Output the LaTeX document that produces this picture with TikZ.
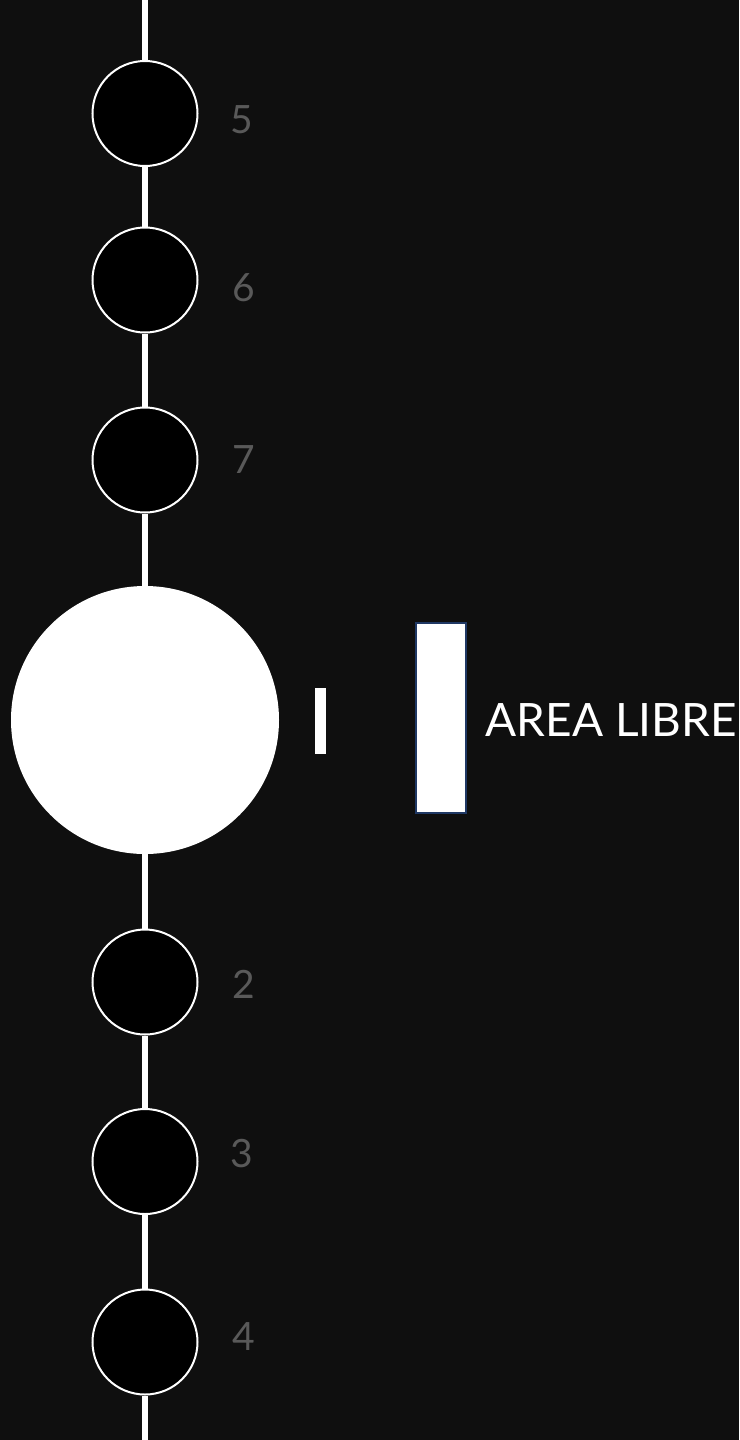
\documentclass[tikz,border=0pt]{standalone}
\usepackage{fontspec}
\setmainfont{Lato}
\usetikzlibrary{positioning}
\definecolor{bgdark}{RGB}{15,15,15}
\definecolor{numgray}{RGB}{89,89,89}
\definecolor{navy}{RGB}{31,56,100}

\begin{document}
\begin{tikzpicture}[
                x=1pt, y=-1pt,
                stop/.style={circle, draw=white, line width=2pt, fill=black, minimum size=105pt, inner sep=0pt},
                bigstop/.style={circle, fill=white, minimum size=268pt, inner sep=0pt},
                num/.style={text=numgray, font=\fontsize{39}{39}\selectfont, inner sep=0pt, anchor=west},
                spine/.style={white, line width=5.5pt},
            ]
                \fill[bgdark] (0,0) rectangle (739,1440);
                \useasboundingbox (0,0) rectangle (739,1440);

                \coordinate (top) at (145,0);
                \coordinate (bot) at (145,1440);

                \node[stop] (c5) at (145,113.5) {};
                \node[stop] (c6) at (145,280) {};
                \node[stop] (c7) at (145,460) {};
                \node[bigstop] (c1) at (145,720) {};
                \node[stop] (c2) at (145,982) {};
                \node[stop] (c3) at (145,1161.5) {};
                \node[stop] (c4) at (145,1342) {};

                % line between the stops
                \draw[spine] (top) -- (c5.north);
                \draw[spine] (c5.south) -- (c6.north);
                \draw[spine] (c6.south) -- (c7.north);
                \draw[spine] (c7.south) -- (c1.north);
                \draw[spine] (c1.south) -- (c2.north);
                \draw[spine] (c2.south) -- (c3.north);
                \draw[spine] (c3.south) -- (c4.north);
                \draw[spine] (c4.south) -- (bot);

                \node[num, right=32pt of c5, yshift=-6.5pt] (l5) {5};
                \node[num, right=34pt of c6, yshift=-8pt] (l6) {6};
                \node[num, right=34pt of c7] (l7) {7};
                \node[num, right=34pt of c2, yshift=-2pt] (l2) {2};
                \node[num, right=32pt of c3, yshift=7.5pt] (l3) {3};
                \node[num, right=34pt of c4, yshift=5pt] (l4) {4};

                \node[fill=white, minimum width=10.5pt, minimum height=66pt, inner sep=0pt, right=36pt of c1, yshift=-1pt] (bar) {};
                \node[draw=navy, line width=1.2pt, fill=white, minimum width=50pt, minimum height=190pt, inner sep=0pt] (panel) at (441,718) {};
                \node[text=white, font=\fontsize{46}{46}\selectfont, inner sep=0pt, anchor=west, right=19pt of panel, yshift=-2pt] (area) {AREA LIBRE};
            \end{tikzpicture}
\end{document}
